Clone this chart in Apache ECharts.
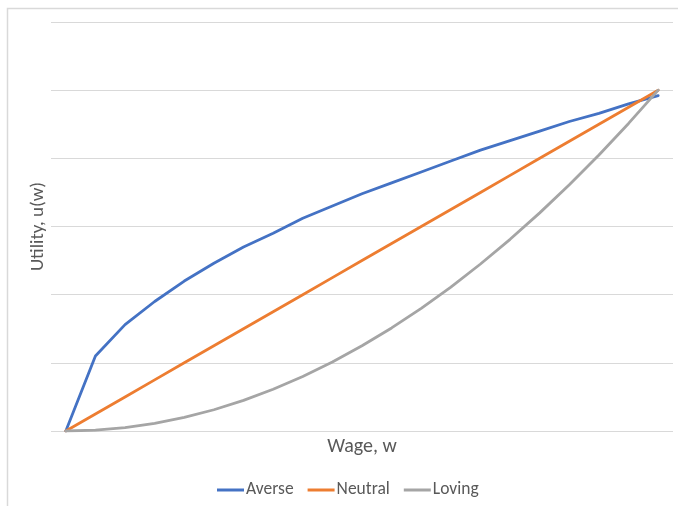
<!DOCTYPE html>
<html>
<head>
<meta charset="utf-8">
<script src="https://cdn.jsdelivr.net/npm/echarts@6/dist/echarts.min.js"></script>
<style>
  html, body { margin: 0; padding: 0; background: #ffffff; }
  #chart { width: 678px; height: 506px; }
</style>
</head>
<body>
<div id="chart"></div>
<script>
// Wage levels (category axis, labels hidden)
const wages = ['0','1','2','3','4','5','6','7','8','9','10','11','12','13','14','15','16','17','18','19','20'];

// Utility for the three risk attitudes
const averse  = [0, 5.5, 7.8, 9.5, 11.0, 12.3, 13.5, 14.5, 15.6, 16.5, 17.4, 18.2, 19.0, 19.8, 20.6, 21.3, 22.0, 22.7, 23.3, 24.0, 24.6];
const neutral = [0, 1.25, 2.5, 3.75, 5.0, 6.25, 7.5, 8.75, 10.0, 11.25, 12.5, 13.75, 15.0, 16.25, 17.5, 18.75, 20.0, 21.25, 22.5, 23.75, 25.0];
const loving  = [0, 0.06, 0.25, 0.56, 1.0, 1.56, 2.25, 3.06, 4.0, 5.06, 6.25, 7.56, 9.0, 10.56, 12.25, 14.06, 16.0, 18.06, 20.25, 22.56, 25.0];

// Value axis range
const yMin = 0, yMax = 30, yStep = 5;

const FONT = 'Carlito, Calibri, "Liberation Sans", "Noto Sans", sans-serif';
const TEXT = '#595959';

const chart = echarts.init(document.getElementById('chart'), null, { renderer: 'canvas' });

function series(name, data, color) {
  return {
    name, type: 'line', data,
    symbol: 'none', smooth: false,
    lineStyle: { color, width: 2.8, cap: 'round', join: 'round' },
    itemStyle: { color },
    emphasis: { disabled: true }
  };
}

chart.setOption({
  animation: false,
  backgroundColor: '#ffffff',
  textStyle: { fontFamily: FONT },
  grid: { left: 51, right: 5, top: 22, bottom: 75, containLabel: false },
  graphic: [{
    type: 'rect', silent: true, z: -1,
    shape: { x: 7.5, y: 8.5, width: 720, height: 560 },
    style: { fill: 'none', stroke: '#d9d9d9', lineWidth: 1.5 }
  }],
  xAxis: {
    type: 'category', data: wages, boundaryGap: true,
    name: 'Wage, w', nameLocation: 'middle', nameGap: 6,
    nameTextStyle: { color: TEXT, fontSize: 20, fontFamily: FONT },
    axisLine: { show: false }, axisTick: { show: false }, axisLabel: { show: false },
    splitLine: { show: false }
  },
  yAxis: {
    type: 'value', min: yMin, max: yMax, interval: yStep,
    name: 'Utility, u(w)', nameLocation: 'middle', nameRotate: 90, nameGap: 3,
    nameTextStyle: { color: TEXT, fontSize: 19, fontFamily: FONT },
    axisLine: { show: false }, axisTick: { show: false }, axisLabel: { show: false },
    splitLine: { show: true, lineStyle: { color: '#d9d9d9', width: 1.2 } }
  },
  legend: {
    left: 217, top: 481, padding: 0,
    icon: 'rect', itemWidth: 27, itemHeight: 3, itemGap: 14,
    textStyle: { color: TEXT, fontSize: 17.5, fontFamily: FONT, padding: [0, 0, 0, -3] },
    data: ['Averse', 'Neutral', 'Loving']
  },
  series: [
    series('Averse', averse, '#4472C4'),
    series('Neutral', neutral, '#ED7D31'),
    series('Loving', loving, '#A5A5A5')
  ]
});
</script>
</body>
</html>
